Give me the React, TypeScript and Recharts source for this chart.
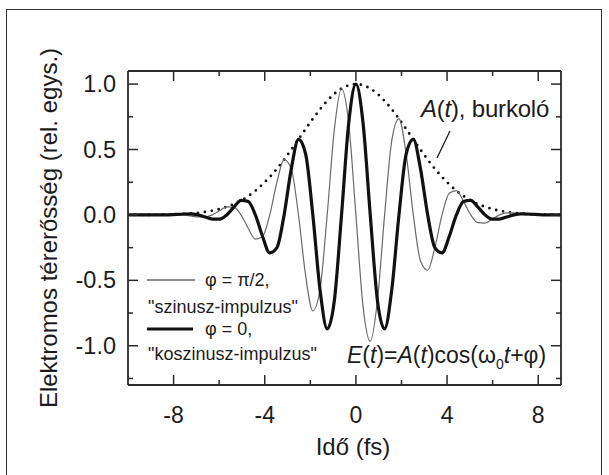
import React from 'react';
import { LineChart, Line, XAxis, YAxis } from 'recharts';

// time samples (fs)
const TIME = [
  -10, -9, -8.19,
  -7.56, -7.245, -6.93, -6.615, -6.3, -5.985, -5.67, -5.355, -5.04, -4.725, -4.41, -4.095,
  -3.78, -3.465, -3.15, -2.835, -2.52, -2.205, -1.89, -1.575, -1.26, -0.945, -0.63, -0.315,
  0,
  0.315, 0.63, 0.945, 1.26, 1.575, 1.89, 2.205, 2.52, 2.835, 3.15, 3.465, 3.78,
  4.095, 4.41, 4.725, 5.04, 5.355, 5.67, 5.985, 6.3, 6.615, 6.93, 7.245, 7.56,
  8.19, 9,
];

// A(t), burkoló (envelope)
const ENVELOPE = [
  0, 0, 0.003,
  0.007, 0.011, 0.016, 0.023, 0.032, 0.045, 0.062, 0.083, 0.111, 0.144, 0.185, 0.234,
  0.29, 0.353, 0.423, 0.498, 0.577, 0.656, 0.734, 0.807, 0.871, 0.926, 0.966, 0.991,
  1.0,
  0.991, 0.966, 0.926, 0.871, 0.807, 0.734, 0.656, 0.577, 0.498, 0.423, 0.353, 0.29,
  0.234, 0.185, 0.144, 0.111, 0.083, 0.062, 0.045, 0.032, 0.023, 0.016, 0.011, 0.007,
  0.003, 0,
];

// φ = π/2, "szinusz-impulzus"
const SINE_PULSE = [
  0, 0, 0,
  0, -0.008, -0.016, -0.016, 0, 0.032, 0.062, 0.059, 0, -0.102, -0.185, -0.165,
  0, 0.25, 0.423, 0.352, 0, -0.464, -0.734, -0.57, 0, 0.654, 0.966, 0.701,
  0,
  -0.701, -0.966, -0.654, 0, 0.57, 0.734, 0.464, 0, -0.352, -0.423, -0.25, 0,
  0.165, 0.185, 0.102, 0, -0.059, -0.062, -0.032, 0, 0.016, 0.016, 0.008, 0,
  0, 0,
];

// φ = 0, "koszinusz-impulzus"
const COSINE_PULSE = [
  0, 0, 0,
  0.007, 0.008, 0, -0.016, -0.032, -0.032, 0, 0.059, 0.111, 0.102, 0, -0.165,
  -0.29, -0.25, 0, 0.352, 0.577, 0.464, 0, -0.57, -0.871, -0.654, 0, 0.701,
  1.0,
  0.701, 0, -0.654, -0.871, -0.57, 0, 0.464, 0.577, 0.352, 0, -0.25, -0.29,
  -0.165, 0, 0.102, 0.111, 0.059, 0, -0.032, -0.032, -0.016, 0, 0.008, 0.007,
  0, 0,
];

const X_TICKS = [-8, -6, -4, -2, 0, 2, 4, 6, 8];
const X_LABELS = [-8, -4, 0, 4, 8];
const Y_TICKS = [-1.25, -1, -0.75, -0.5, -0.25, 0, 0.25, 0.5, 0.75, 1];
const Y_LABELS = [-1, -0.5, 0, 0.5, 1];

const data = TIME.map((t, i) => ({
  t,
  env: ENVELOPE[i],
  sin: SINE_PULSE[i],
  cos: COSINE_PULSE[i],
}));

const FONT = '"Liberation Sans", Arial, Helvetica, sans-serif';
const INK = '#1c1c1c';
const AXIS = '#2a2a2a';
const MAJOR = 10;
const MINOR = 5;

const isMajorY = (v: number) => Y_LABELS.some((l) => Math.abs(l - v) < 1e-9);

function BottomTick(p: any) {
  const { x, y, payload } = p;
  const v = payload.value;
  const major = X_LABELS.includes(v);
  return (
    <g>
      <line x1={x} x2={x} y1={y} y2={y - (major ? MAJOR : MINOR)} stroke={AXIS} strokeWidth={1.5} />
      {major && (
        <text x={x} y={y + 38} textAnchor="middle" fontSize={23} fill={INK} fontFamily={FONT}>
          {v}
        </text>
      )}
    </g>
  );
}

function TopTick(p: any) {
  const { x, y, payload } = p;
  const major = X_LABELS.includes(payload.value);
  return <line x1={x} x2={x} y1={y} y2={y + (major ? MAJOR : MINOR)} stroke={AXIS} strokeWidth={1.5} />;
}

function LeftTick(p: any) {
  const { x, y, payload } = p;
  const v = payload.value;
  const major = isMajorY(v);
  return (
    <g>
      <line x1={x} x2={x + (major ? MAJOR : MINOR)} y1={y} y2={y} stroke={AXIS} strokeWidth={1.5} />
      {major && (
        <text x={x - 12} y={y + 8} textAnchor="end" fontSize={23.5} fill={INK} fontFamily={FONT}>
          {v.toFixed(1)}
        </text>
      )}
    </g>
  );
}

function RightTick(p: any) {
  const { x, y, payload } = p;
  const major = isMajorY(payload.value);
  return <line x1={x} x2={x - (major ? MAJOR : MINOR)} y1={y} y2={y} stroke={AXIS} strokeWidth={1.5} />;
}

export default function App() {
  return (
    <div
      style={{
        position: 'absolute',
        left: 0,
        top: 0,
        width: 609,
        height: 475,
        overflow: 'hidden',
        background: '#fff',
      }}
    >
      <div
        style={{
          position: 'absolute',
          left: 6,
          top: 9,
          width: 596,
          height: 480,
          border: '1px solid #333',
          boxSizing: 'border-box',
        }}
      />
      <div style={{ position: 'absolute', left: 0, top: 0 }}>
        <LineChart width={609} height={475} data={data} margin={{ top: 61, right: 38, bottom: 30, left: 28 }}>
          <XAxis
            dataKey="t"
            type="number"
            domain={[-10, 9]}
            allowDataOverflow
            ticks={X_TICKS}
            interval={0}
            height={60}
            tickSize={0}
            tickMargin={0}
            tickLine={false}
            axisLine={{ stroke: AXIS, strokeWidth: 1.8 }}
            tick={(p: any) => <BottomTick {...p} />}
          />
          <XAxis
            xAxisId="top"
            orientation="top"
            dataKey="t"
            type="number"
            domain={[-10, 9]}
            allowDataOverflow
            ticks={X_TICKS}
            interval={0}
            height={10}
            tickSize={0}
            tickMargin={0}
            tickLine={false}
            axisLine={{ stroke: AXIS, strokeWidth: 1.8 }}
            tick={(p: any) => <TopTick {...p} />}
          />
          <YAxis
            type="number"
            domain={[-1.3, 1.1]}
            allowDataOverflow
            ticks={Y_TICKS}
            interval={0}
            width={100}
            tickSize={0}
            tickMargin={0}
            tickLine={false}
            axisLine={{ stroke: AXIS, strokeWidth: 1.8 }}
            tick={(p: any) => <LeftTick {...p} />}
          />
          <YAxis
            yAxisId="right"
            orientation="right"
            type="number"
            domain={[-1.3, 1.1]}
            allowDataOverflow
            ticks={Y_TICKS}
            interval={0}
            width={10}
            tickSize={0}
            tickMargin={0}
            tickLine={false}
            axisLine={{ stroke: AXIS, strokeWidth: 1.8 }}
            tick={(p: any) => <RightTick {...p} />}
          />
          <Line
            dataKey="env"
            type="monotone"
            stroke="#111"
            strokeWidth={2.8}
            strokeDasharray="0 7"
            strokeLinecap="round"
            dot={false}
            activeDot={false}
            isAnimationActive={false}
          />
          <Line
            dataKey="sin"
            type="monotone"
            stroke="#6a6a6a"
            strokeWidth={1.2}
            dot={false}
            activeDot={false}
            isAnimationActive={false}
          />
          <Line
            dataKey="cos"
            type="monotone"
            stroke="#111"
            strokeWidth={3.2}
            dot={false}
            activeDot={false}
            isAnimationActive={false}
          />
        </LineChart>
      </div>
      <svg
        width={609}
        height={475}
        style={{ position: 'absolute', left: 0, top: 0, pointerEvents: 'none' }}
        fontFamily={FONT}
        fill={INK}
      >
        {/* axis titles */}
        <text x={57} y={228} transform="rotate(-90 57 228)" textAnchor="middle" fontSize={24}>
          Elektromos térerősség (rel. egys.)
        </text>
        <text x={353} y={455} textAnchor="middle" fontSize={24}>
          Idő (fs)
        </text>

        {/* envelope annotation */}
        <text x={421} y={117} fontSize={24} letterSpacing={-0.2}>
          <tspan fontStyle="italic">A</tspan>(<tspan fontStyle="italic">t</tspan>), burkoló
        </text>
        <line x1={450} y1={131} x2={437} y2={158} stroke={INK} strokeWidth={1.3} />

        {/* formula */}
        <text x={347} y={363} fontSize={23}>
          <tspan fontStyle="italic">E</tspan>(<tspan fontStyle="italic">t</tspan>)=
          <tspan fontStyle="italic">A</tspan>(<tspan fontStyle="italic">t</tspan>)cos(ω
          <tspan fontSize={14} dy={6}>0</tspan>
          <tspan fontStyle="italic" dy={-6}>t</tspan>+φ)
        </text>

        {/* legend */}
        <line x1={147} y1={280} x2={195} y2={280} stroke="#6a6a6a" strokeWidth={1.3} />
        <text x={205} y={286} fontSize={18}>φ = π/2,</text>
        <text x={148} y={313} fontSize={18}>"szinusz-impulzus"</text>
        <line x1={147} y1={329} x2={193} y2={329} stroke="#111" strokeWidth={3.2} />
        <text x={205} y={335} fontSize={18}>φ = 0,</text>
        <text x={148} y={360} fontSize={18}>"koszinusz-impulzus"</text>
      </svg>
    </div>
  );
}
